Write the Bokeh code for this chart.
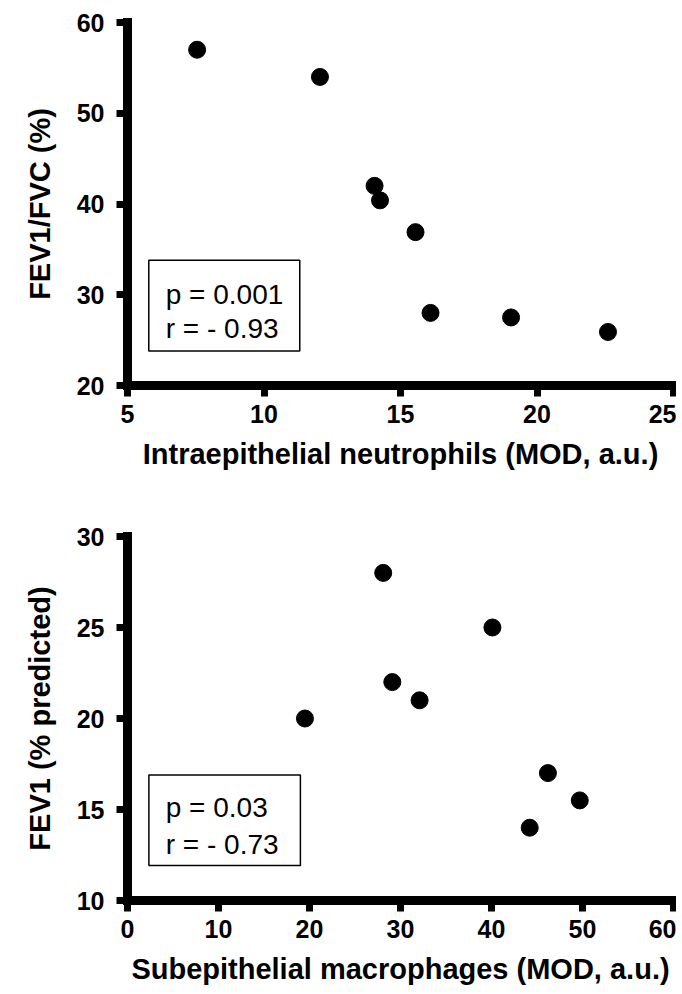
from bokeh.plotting import figure
from bokeh.layouts import column
from bokeh.models import Range1d, FixedTicker, BoxAnnotation, Label, ColumnDataSource
from bokeh.embed import file_html
from bokeh.resources import INLINE

# ---- data ----
neutrophils = [7.55, 12.05, 14.05, 14.25, 15.55, 16.1, 19.05, 22.6]
fev1_fvc = [57.0, 54.0, 42.0, 40.4, 36.9, 28.0, 27.5, 25.9]

macrophages = [19.5, 28.1, 29.1, 32.1, 40.1, 46.2, 44.2, 49.7]
fev1_pred = [20.0, 28.0, 22.0, 21.0, 25.0, 17.0, 14.0, 15.5]

top_xticks = [5, 10, 15, 20, 25]
top_yticks = [20, 30, 40, 50, 60]
bot_xticks = [0, 10, 20, 30, 40, 50, 60]
bot_yticks = [10, 15, 20, 25, 30]

top_stats = ["p = 0.001", "r = - 0.93"]
bot_stats = ["p = 0.03", "r = - 0.73"]

FONT = "Liberation Sans"


def make_fig(xs, ys, xr, yr, xticks, yticks, xlabel, ylabel, height, top_border,
             bottom_border, box, stats_x, stats_y, stats):
    p = figure(width=676, height=height, output_backend="svg", toolbar_location=None,
               x_range=Range1d(*xr), y_range=Range1d(*yr),
               min_border_left=127, min_border_right=3,
               min_border_top=top_border, min_border_bottom=bottom_border)
    p.grid.visible = False
    p.outline_line_color = None
    p.background_fill_color = "white"
    p.border_fill_color = "white"
    p.xaxis.ticker = FixedTicker(ticks=xticks)
    p.yaxis.ticker = FixedTicker(ticks=yticks)
    p.xaxis.axis_label = xlabel
    p.yaxis.axis_label = ylabel
    p.axis.axis_line_width = 9
    p.axis.axis_line_color = "black"
    p.axis.axis_line_cap = "square"
    p.axis.major_tick_line_width = 7
    p.axis.major_tick_line_color = "black"
    p.axis.major_tick_out = 11
    p.axis.major_tick_in = 0
    p.axis.minor_tick_line_color = None
    p.axis.major_label_text_font = FONT
    p.axis.major_label_text_font_style = "bold"
    p.axis.major_label_text_font_size = "25px"
    p.axis.major_label_text_color = "black"
    p.axis.axis_label_text_font = FONT
    p.axis.axis_label_text_font_style = "bold"
    p.axis.axis_label_text_font_size = "29px"
    p.axis.axis_label_text_color = "black"
    p.xaxis.major_label_standoff = 8
    p.xaxis.axis_label_standoff = 12
    p.yaxis.major_label_standoff = 12
    p.yaxis.axis_label_standoff = 18

    p.add_layout(BoxAnnotation(left=box[0], right=box[1], bottom=box[2], top=box[3],
                               fill_color="white", fill_alpha=1.0,
                               line_color="black", line_alpha=1.0, line_width=1.5,
                               level="underlay"))
    for s, yy in zip(stats, stats_y):
        p.add_layout(Label(x=stats_x, y=yy, text=s, text_font=FONT,
                           text_font_size="28px", text_color="black",
                           text_baseline="alphabetic", text_align="left"))

    src = ColumnDataSource(dict(x=xs, y=ys))
    p.scatter("x", "y", source=src, size=17, fill_color="black", line_color="black")
    return p


p1 = make_fig(neutrophils, fev1_fvc, (5, 25), (20, 60), top_xticks, top_yticks,
              "Intraepithelial neutrophils (MOD, a.u.)", "FEV1/FVC (%)",
              height=508, top_border=22, bottom_border=123,
              box=(5.78, 11.31, 23.8, 33.8), stats_x=6.4, stats_y=[30.0, 26.3],
              stats=top_stats)
p2 = make_fig(macrophages, fev1_pred, (0, 60), (10, 30), bot_xticks, bot_yticks,
              "Subepithelial macrophages (MOD, a.u.)", "FEV1 (% predicted)",
              height=484, top_border=28, bottom_border=92,
              box=(2.35, 19.0, 11.92, 16.9), stats_x=4.2, stats_y=[15.13, 13.08],
              stats=bot_stats)

layout = column(p1, p2, spacing=0)
open("out.html", "w").write(file_html(layout, INLINE))
